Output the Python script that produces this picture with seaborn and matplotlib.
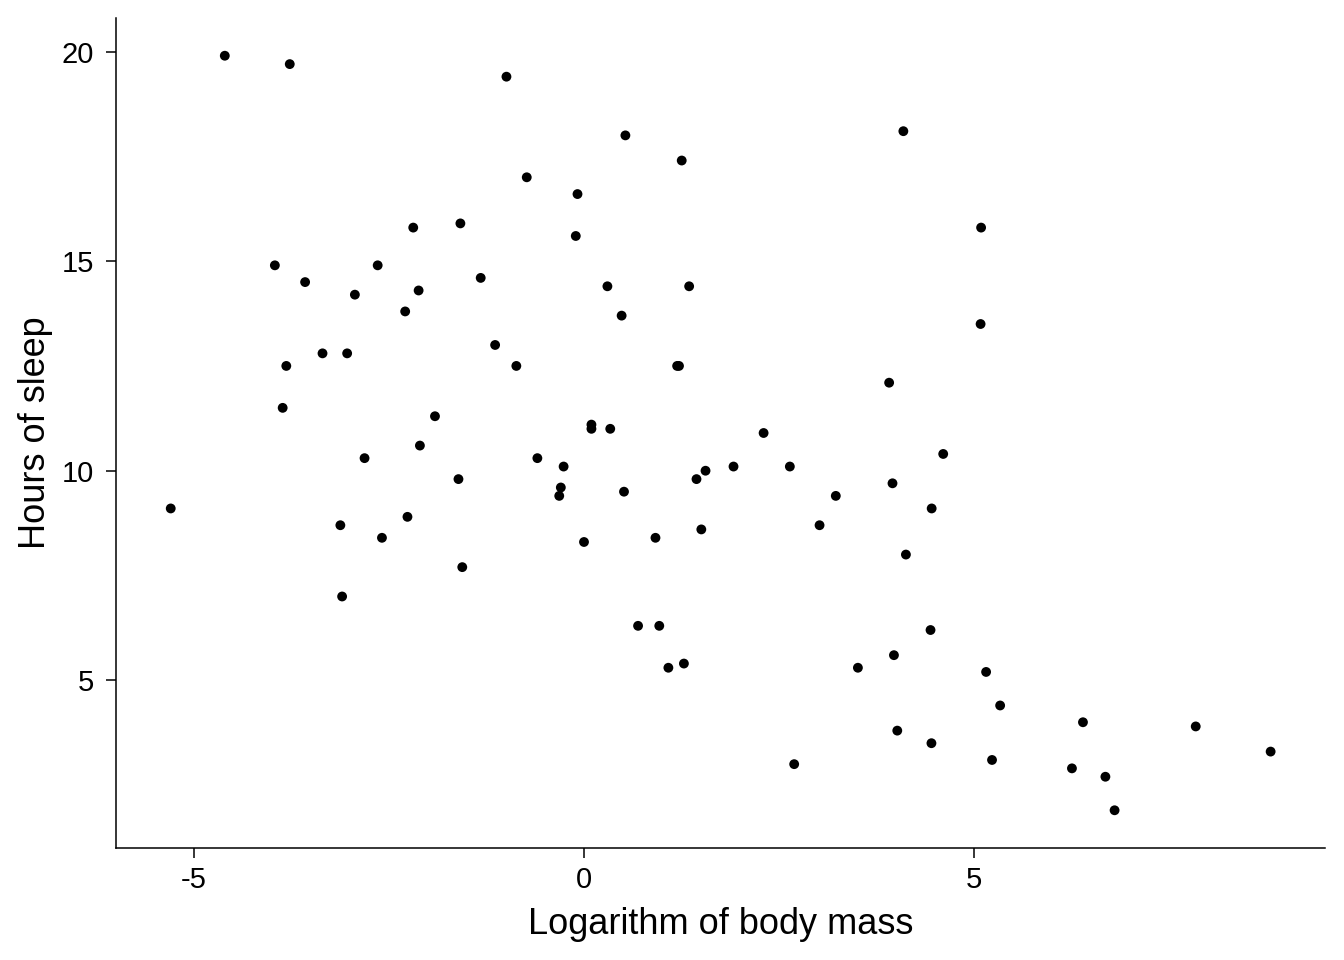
import numpy as np
import pandas as pd
import matplotlib
matplotlib.use("Agg")
import matplotlib.pyplot as plt
import seaborn as sns

# msleep: body weight (kg) and total sleep (hours)
bodywt = [50.000, 0.480, 1.350, 0.019, 600.000, 3.850, 20.490, 0.045, 14.000, 14.800,
          33.500, 0.728, 4.750, 0.420, 0.060, 1.000, 0.005, 3.500, 2.950, 1.700,
          2547.000, 0.023, 521.000, 187.000, 0.770, 10.000, 0.071, 3.300, 0.200, 899.995,
          800.000, 85.000, 2.625, 62.000, 1.670, 6654.000, 0.370, 6.800, 0.053, 0.120,
          0.035, 0.022, 0.010, 0.266, 1.400, 0.210, 0.028, 2.500, 55.500, 52.200,
          162.564, 100.000, 161.499, 25.235, 0.550, 1.100, 0.021, 1.620, 86.000, 53.180,
          1.100, 60.000, 3.600, 0.320, 0.044, 0.743, 0.075, 0.148, 0.122, 0.920,
          0.101, 0.205, 0.048, 86.250, 4.500, 0.112, 207.501, 0.900, 0.104, 173.330,
          2.000, 3.380, 4.230]
sleep_total = [12.1, 17.0, 14.4, 14.9, 4.0, 14.4, 8.7, 7.0, 10.1, 3.0,
               5.3, 9.4, 10.0, 12.5, 10.3, 8.3, 9.1, 17.4, 5.3, 18.0,
               3.9, 19.7, 2.9, 3.1, 10.1, 10.9, 14.9, 12.5, 9.8, 1.9,
               2.7, 6.2, 6.3, 8.0, 9.5, 3.3, 19.4, 10.1, 14.2, 14.3,
               12.8, 12.5, 19.9, 14.6, 11.0, 7.7, 14.5, 8.4, 3.8, 9.7,
               15.8, 10.4, 13.5, 9.4, 10.3, 11.0, 11.5, 13.7, 3.5, 5.6,
               11.1, 18.1, 5.4, 13.0, 8.7, 9.6, 8.4, 11.3, 10.6, 16.6,
               13.8, 15.9, 12.8, 9.1, 8.6, 15.8, 4.4, 15.6, 8.9, 5.2,
               6.3, 12.5, 9.8]

df = pd.DataFrame({"logbw": np.log(bodywt), "sleep": sleep_total})

sns.set_style("ticks")
plt.rcParams['font.family'] = ['Liberation Sans', 'DejaVu Sans']
plt.rcParams['axes.unicode_minus'] = False

fig = plt.figure(figsize=(13.44, 9.6), dpi=100)
ax = fig.add_axes([116/1344, 1 - 848/960, (1325-116)/1344, (848-18)/960])
sns.scatterplot(data=df, x="logbw", y="sleep", color="black", s=50,
                edgecolor="none", ax=ax)

ax.set_xlim(-6.0, 9.5)
ax.set_ylim(1.0, 20.8)
ax.set_xticks([-5, 0, 5])
ax.set_yticks([5, 10, 15, 20])
ax.set_xlabel("Logarithm of body mass", fontsize=26, color="black", labelpad=9)
ax.set_ylabel("Hours of sleep", fontsize=26, color="black", labelpad=6)
ax.tick_params(labelsize=21, length=7, width=1.1, colors="black", labelcolor="black")
ax.tick_params(axis="x", pad=6)
ax.tick_params(axis="y", pad=9)
for side in ["top", "right"]:
    ax.spines[side].set_visible(False)
for side in ["left", "bottom"]:
    ax.spines[side].set_linewidth(1.1)
    ax.spines[side].set_color("black")

fig.savefig("out.png", dpi=100)
